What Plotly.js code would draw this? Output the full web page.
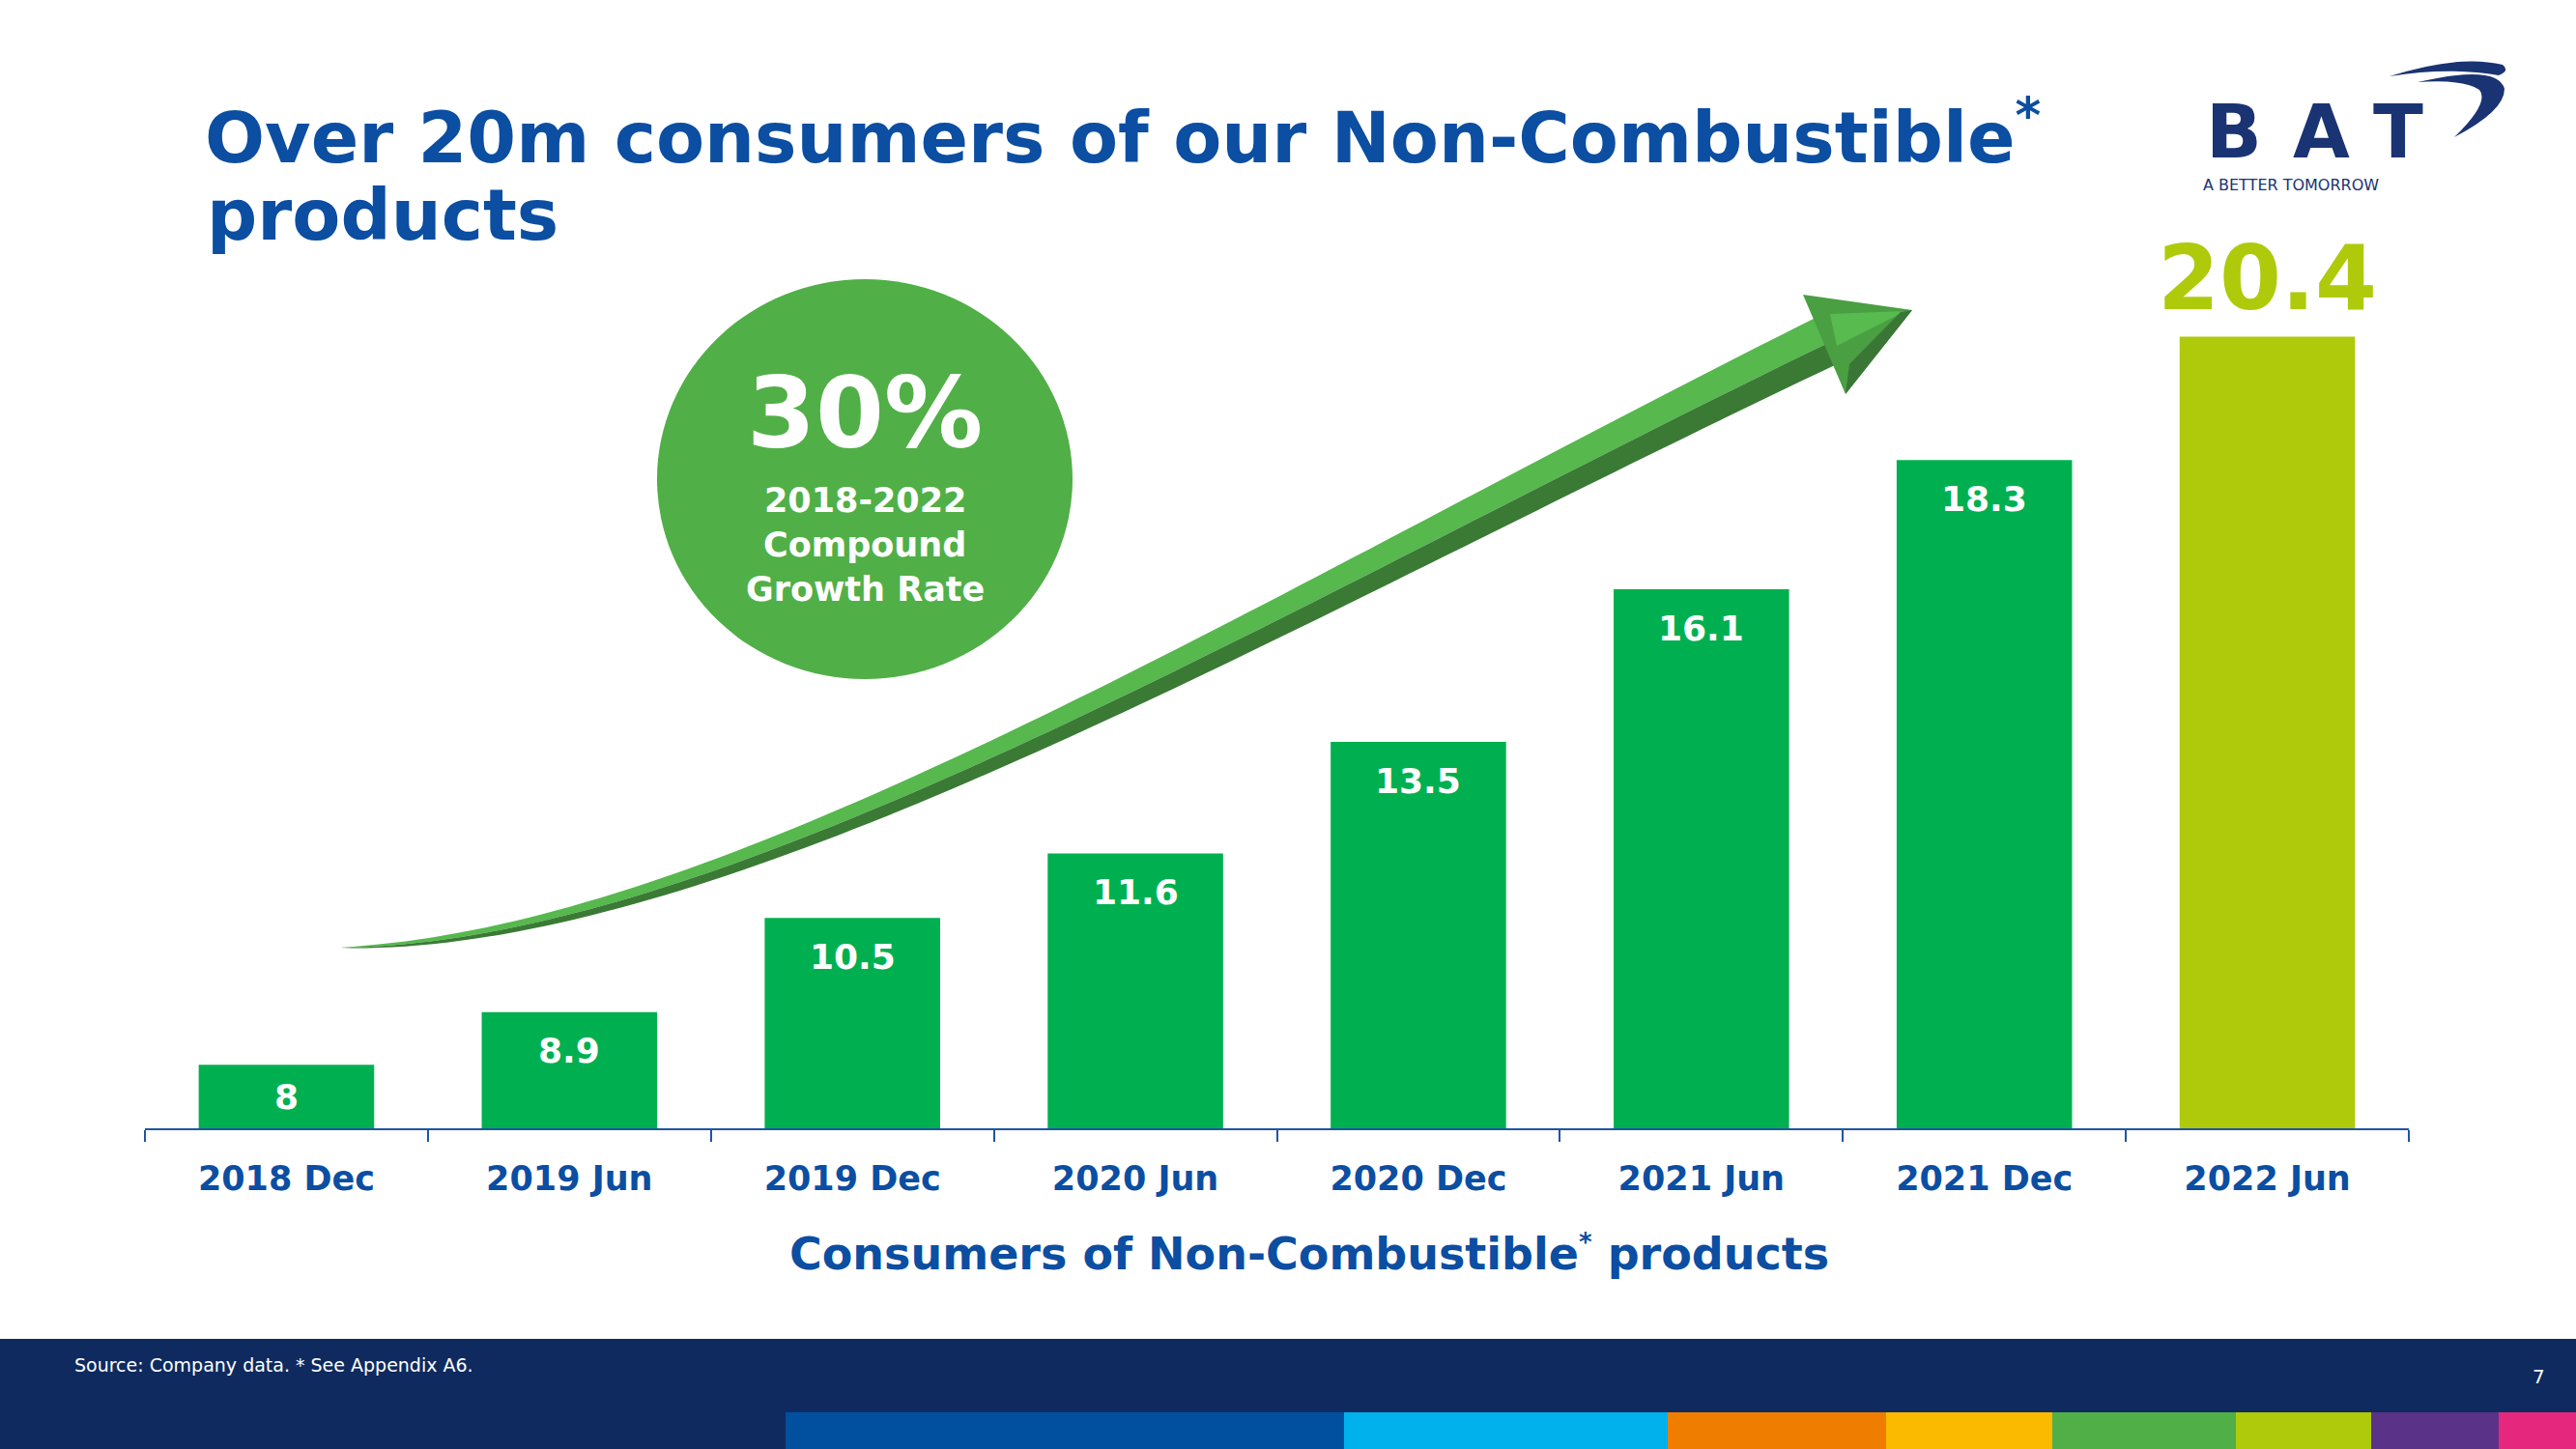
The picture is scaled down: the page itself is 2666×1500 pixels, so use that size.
<!DOCTYPE html>
<html>
<head>
<meta charset="utf-8">
<script src="https://cdn.plot.ly/plotly-3.0.1.min.js"></script>
<style>
  html, body { margin: 0; padding: 0; background: #ffffff; }
  #chart { width: 2666px; height: 1500px; }
</style>
</head>
<body>
<div id="chart"></div>
<script>
// ---------------- DATA ----------------
const categories = ['2018 Dec', '2019 Jun', '2019 Dec', '2020 Jun', '2020 Dec', '2021 Jun', '2021 Dec', '2022 Jun'];
const consumers = [8, 8.9, 10.5, 11.6, 13.5, 16.1, 18.3, 20.4];
const titleText = 'Over 20m consumers of our Non-Combustible<sup>*</sup>';
const titleLine2 = 'products';
const axisTitle = 'Consumers of Non-Combustible<sup><span style="font-size:26px">*</span></sup> products';
const cagrValue = '30%';
const cagrLines = ['2018-2022', 'Compound', 'Growth Rate'];
const sourceText = 'Source: Company data. * See Appendix A6.';
const pageNumber = '7';
const logoLetters = ['B', 'A', 'T'];
const logoTagline = 'A BETTER TOMORROW';

// ---------------- STYLE / GEOMETRY ----------------
const W = 2666, H = 1500;
const M = { l: 150, r: 173, t: 250, b: 332 };
const PW = W - M.l - M.r;
const PH = H - M.t - M.b;
const px = x => (x - M.l) / PW;
const py = y => (H - M.b - y) / PH;

const FONT = 'DejaVu Sans, Inter, sans-serif';
const BLUE = '#0b4ea2';
const NAVY = '#0f2a5e';
const GREEN = '#00b050';
const LIME = '#afca0b';
const WHITE = '#ffffff';
const LOGO = '#1a3473';

const baseValue = 6.92;
const yTop = 22.02;

function pathOf(pts) {
  return 'M ' + pts.map(p => px(p[0]).toFixed(5) + ',' + py(p[1]).toFixed(5)).join(' L ') + ' Z';
}

const shapes = [];

// Footer band
shapes.push({ type: 'rect', xref: 'paper', yref: 'paper', x0: px(0), x1: px(W), y0: py(H), y1: py(1386),
  fillcolor: NAVY, line: { width: 0 }, layer: 'above' });
// Colour strip
const stripEdges = [813, 1391, 1726, 1952, 2124, 2314, 2454, 2586, 2666];
const stripColors = ['#00509f', '#00b1eb', '#ef7d00', '#fbb900', '#50af47', '#afca0b', '#5a3287', '#e5287e'];
for (let i = 0; i < stripColors.length; i++) {
  shapes.push({ type: 'rect', xref: 'paper', yref: 'paper', x0: px(stripEdges[i]), x1: px(stripEdges[i + 1]),
    y0: py(H), y1: py(1462), fillcolor: stripColors[i], line: { width: 0 }, layer: 'above' });
}

// CAGR circle
shapes.push({ type: 'circle', xref: 'paper', yref: 'paper', x0: px(680), x1: px(1110), y0: py(703), y1: py(289),
  fillcolor: '#51af47', line: { width: 0 } });

// Curved arrow body (decoration)
const B0 = [352, 981], B1 = [750, 975], B2 = [1300, 640], B3 = [1892, 352];
function bez(t, a, b, c, d) { const u = 1 - t; return u*u*u*a + 3*u*u*t*b + 3*u*t*t*c + t*t*t*d; }
function dbez(t, a, b, c, d) { const u = 1 - t; return 3*u*u*(b - a) + 6*u*t*(c - b) + 3*t*t*(d - c); }
const upper = [], mid = [], lower = [];
const N = 90;
for (let i = 0; i <= N; i++) {
  const t = i / N;
  const cx = bez(t, B0[0], B1[0], B2[0], B3[0]);
  const cy = bez(t, B0[1], B1[1], B2[1], B3[1]);
  const dx = dbez(t, B0[0], B1[0], B2[0], B3[0]);
  const dy = dbez(t, B0[1], B1[1], B2[1], B3[1]);
  const len = Math.hypot(dx, dy);
  const nx = dy / len, ny = -dx / len;
  const w = 53 * Math.pow(t, 0.8);
  upper.push([cx + nx * w * 0.5, cy + ny * w * 0.5]);
  mid.push([cx - nx * w * 0.05, cy - ny * w * 0.05]);
  lower.push([cx - nx * w * 0.5, cy - ny * w * 0.5]);
}
shapes.push({ type: 'path', xref: 'paper', yref: 'paper', path: pathOf(upper.concat(mid.slice().reverse())),
  fillcolor: '#56b84d', line: { width: 0 } });
shapes.push({ type: 'path', xref: 'paper', yref: 'paper', path: pathOf(mid.concat(lower.slice().reverse())),
  fillcolor: '#3a7a35', line: { width: 0 } });
// Arrow head
shapes.push({ type: 'path', xref: 'paper', yref: 'paper', path: pathOf([[1866, 305], [1979, 321], [1910, 408]]),
  fillcolor: '#4a9f42', line: { width: 0 } });
shapes.push({ type: 'path', xref: 'paper', yref: 'paper', path: pathOf([[1894, 325], [1972, 322], [1901, 358]]),
  fillcolor: '#58bb4f', line: { width: 0 } });
shapes.push({ type: 'path', xref: 'paper', yref: 'paper', path: pathOf([[1979, 321], [1910, 408], [1914, 377], [1967, 323]]),
  fillcolor: '#3a7736', line: { width: 0 } });

// Logo swoosh
function qpath(cmds) {
  return cmds.map(c => c[0] + ' ' + c.slice(1).map(p => px(p[0]).toFixed(5) + ',' + py(p[1]).toFixed(5)).join(' ')).join(' ') + ' Z';
}
shapes.push({ type: 'path', xref: 'paper', yref: 'paper',
  path: qpath([['M', [2473, 79]], ['Q', [2545, 56], [2590, 67]], ['Q', [2598, 73], [2586, 78]], ['Q', [2535, 69], [2473, 79]]]),
  fillcolor: LOGO, line: { width: 0 } });
shapes.push({ type: 'path', xref: 'paper', yref: 'paper',
  path: qpath([['M', [2502, 85]], ['Q', [2585, 66], [2592, 92]], ['Q', [2592, 115], [2540, 142]], ['Q', [2577, 106], [2566, 93]], ['Q', [2552, 82], [2502, 85]]]),
  fillcolor: LOGO, line: { width: 0 } });

// ---------------- ANNOTATIONS ----------------
const annotations = [];
const last = consumers.length - 1;
consumers.forEach((v, i) => {
  if (i === last) {
    annotations.push({ x: categories[i], y: v, xref: 'x', yref: 'y', text: String(v), showarrow: false,
      yanchor: 'bottom', yshift: 4, font: { family: FONT, size: 92, color: LIME, weight: 'bold' } });
  } else {
    annotations.push({ x: categories[i], y: Math.max(v - 0.66, (v + baseValue) / 2), xref: 'x', yref: 'y',
      text: String(v), showarrow: false, yanchor: 'middle',
      font: { family: FONT, size: 36, color: WHITE, weight: 'bold' } });
  }
});

annotations.push({ xref: 'paper', yref: 'paper', x: px(212), y: py(222), xanchor: 'left', yanchor: 'middle',
  text: titleLine2, showarrow: false, font: { family: FONT, size: 73, color: BLUE, weight: 'bold' } });

annotations.push({ xref: 'paper', yref: 'paper', x: px(1355), y: py(1298), xanchor: 'center', yanchor: 'middle',
  text: axisTitle, showarrow: false, font: { family: FONT, size: 46, color: BLUE, weight: 'bold' } });

annotations.push({ xref: 'paper', yref: 'paper', x: px(895), y: py(427), xanchor: 'center', yanchor: 'middle',
  text: cagrValue, showarrow: false, font: { family: FONT, size: 102, color: WHITE, weight: 'bold' } });
const cagrY = [518, 564, 610];
cagrLines.forEach((t, i) => {
  annotations.push({ xref: 'paper', yref: 'paper', x: px(895), y: py(cagrY[i]), xanchor: 'center', yanchor: 'middle',
    text: t, showarrow: false, font: { family: FONT, size: 35, color: WHITE, weight: 'bold' } });
});

annotations.push({ xref: 'paper', yref: 'paper', x: px(75), y: py(1413), xanchor: 'left', yanchor: 'middle',
  text: sourceText, showarrow: false, font: { family: FONT, size: 19, color: WHITE } });
annotations.push({ xref: 'paper', yref: 'paper', x: px(2627), y: py(1425), xanchor: 'center', yanchor: 'middle',
  text: pageNumber, showarrow: false, font: { family: FONT, size: 20, color: WHITE } });

const logoX = [2312, 2402, 2482];
logoLetters.forEach((l, i) => {
  annotations.push({ xref: 'paper', yref: 'paper', x: px(logoX[i]), y: py(136), xanchor: 'center', yanchor: 'middle',
    borderpad: 0, text: l, showarrow: false, font: { family: FONT, size: 76, color: LOGO, weight: 'bold' } });
});
annotations.push({ xref: 'paper', yref: 'paper', x: px(2279), y: py(192), xanchor: 'left', yanchor: 'middle',
  borderpad: 0, text: logoTagline, showarrow: false, font: { family: FONT, size: 16, color: LOGO } });

// ---------------- TRACE ----------------
const trace = {
  type: 'bar',
  x: categories,
  y: consumers,
  marker: { color: consumers.map((v, i) => i === last ? LIME : GREEN), line: { width: 0 } },
  hoverinfo: 'x+y'
};

const layout = {
  width: W, height: H,
  margin: M,
  paper_bgcolor: WHITE, plot_bgcolor: WHITE,
  showlegend: false,
  bargap: 0.38,
  title: {
    text: titleText, xref: 'container', yref: 'container',
    x: 212 / W, xanchor: 'left', y: 1 - 142 / H, yanchor: 'middle',
    font: { family: FONT, size: 73, color: BLUE, weight: 'bold' }
  },
  xaxis: {
    type: 'category',
    range: [-0.5, categories.length - 0.5],
    showline: true, linecolor: '#1f55a0', linewidth: 2,
    ticks: 'outside', tickson: 'boundaries', ticklen: 12, tickwidth: 2, tickcolor: '#1f55a0',
    showgrid: false, zeroline: false,
    tickfont: { family: FONT, size: 35, color: BLUE, weight: 'bold' },
    ticklabelstandoff: 20,
    fixedrange: true
  },
  yaxis: {
    range: [baseValue, yTop],
    showgrid: false, zeroline: false, showline: false, showticklabels: false, ticks: '',
    fixedrange: true
  },
  shapes: shapes,
  annotations: annotations
};

Plotly.newPlot('chart', [trace], layout, { displayModeBar: false, responsive: false });
</script>
</body>
</html>
